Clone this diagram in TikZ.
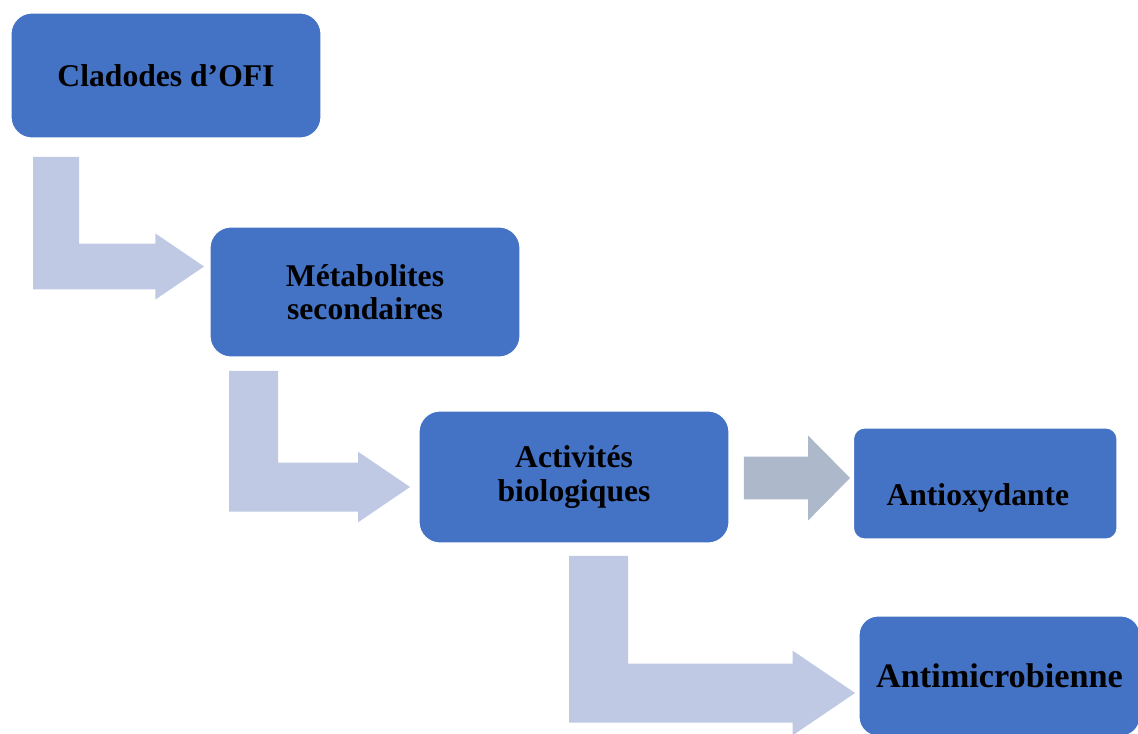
\documentclass[tikz,border=0pt]{standalone}
\usepackage{fontspec}
\setmainfont{Liberation Serif}
\usetikzlibrary{calc,positioning}
\definecolor{boxblue}{HTML}{4472C4}
\definecolor{arrowlight}{HTML}{BFC9E4}
\definecolor{arrowgray}{HTML}{ADB9CA}
\tikzset{
    boxtext/.style={font=\bfseries\fontsize{18}{19}\selectfont},
    stage/.style={boxtext, fill=boxblue, draw=white, line width=0.6pt,
        rounded corners=0.42cm, minimum width=6.2cm, outer sep=0pt,
        inner sep=2pt, align=center},
    result/.style={stage, rounded corners=0.22cm},
    bent/.style={fill=arrowlight},
    flat/.style={fill=arrowgray}
}
% bent block arrow: #1 top left of the stem, #2 tip, #3 stem width
\newcommand{\bentarrow}[3]{%
    \fill [bent] let \p1 = #1, \p2 = #2, \n1 = {#3} in
        (\x1, \y1) -- (\x1+\n1, \y1) -- (\x1+\n1, \y2+0.5*\n1)
        -- (\x2-1.06*\n1, \y2+0.5*\n1) -- (\x2-1.06*\n1, \y2+0.72*\n1)
        -- (\x2, \y2)
        -- (\x2-1.06*\n1, \y2-0.72*\n1) -- (\x2-1.06*\n1, \y2-0.5*\n1)
        -- (\x1, \y2-0.5*\n1) -- cycle;}

\begin{document}
\begin{tikzpicture}[x=0.02cm, y=-0.02cm]
    \useasboundingbox (0, 0) rectangle (1138, 733);
    \clip (0, 0) rectangle (1138, 733);

    \node [stage, minimum height=2.5cm] (clad) at (166, 75.5) {Cladodes d’OFI};
    \node [stage, minimum height=2.6cm] (metab) at (365, 292) {Métabolites\\secondaires};
    \node [stage, minimum height=2.64cm] (activ) at (574, 477) {Activités\\biologiques};
    \node [result, minimum width=5.27cm, minimum height=2.22cm,
        label={[boxtext, xshift=-4.2pt, yshift=-8pt]center:Antioxydante}] (antiox) at (985.25, 483.5) {};
    \node [stage, rounded corners=0.38cm, minimum width=5.62cm, minimum height=2.4cm,
        font=\bfseries\fontsize{19.5}{21}\selectfont] (antimic) at (999.5, 676) {Antimicrobienne};

    \bentarrow{($(clad.south west)+(22,19)$)}{($(metab.west)+(-6,-25.5)$)}{0.92cm}
    \bentarrow{($(metab.south west)+(19,14)$)}{($(activ.west)+(-9,10)$)}{0.98cm}
    \bentarrow{($(activ.south west)+(150,13)$)}{($(antimic.west)+(-4,17)$)}{1.18cm}

    \fill [flat] let \p1 = ($(activ.east)+(15,0)$), \p2 = ($(antiox.west)+(-3.5,-5.5)$) in
        (\x1, \y2+12.2pt) -- (\x2-23.8pt, \y2+12.2pt) -- (\x2-23.8pt, \y2+24.1pt)
        -- (\x2, \y2)
        -- (\x2-23.8pt, \y2-24.1pt) -- (\x2-23.8pt, \y2-12.2pt) -- (\x1, \y2-12.2pt) -- cycle;
\end{tikzpicture}
\end{document}
